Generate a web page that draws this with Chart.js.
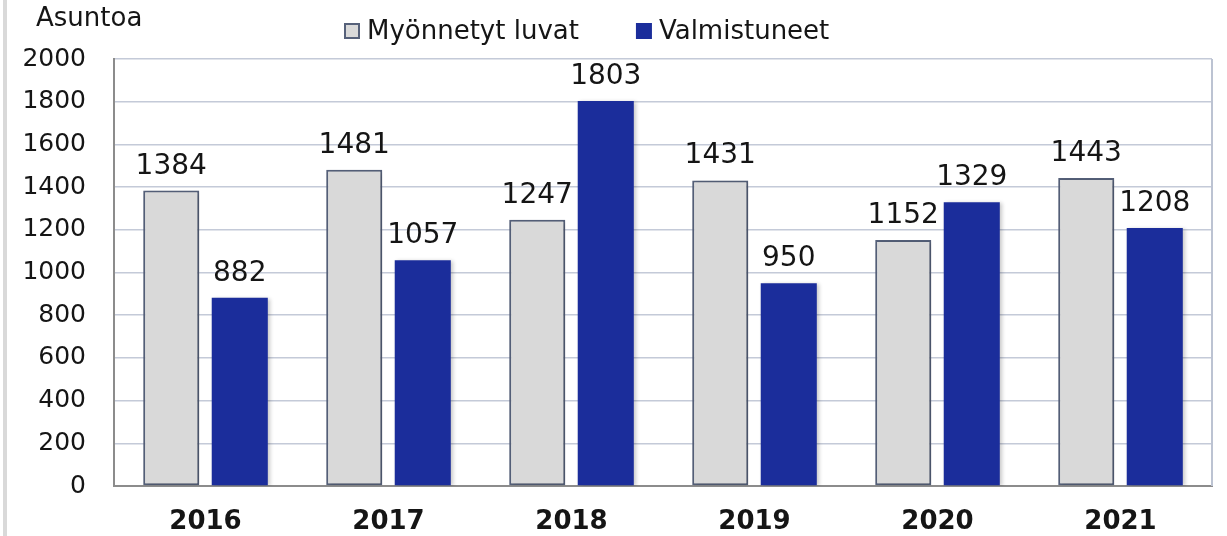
<!DOCTYPE html>
<html>
<head>
<meta charset="utf-8">
<script src="https://cdn.jsdelivr.net/npm/chart.js@4.4.1/dist/chart.umd.min.js"></script>
<style>
    html, body { margin: 0; padding: 0; background: #ffffff; }
    #wrap { position: relative; width: 1227px; height: 536px; }
</style>
</head>
<body>
<div id="wrap"><canvas id="chart" width="1227" height="536"></canvas></div>
<script>
// Data
const vuodet = ['2016', '2017', '2018', '2019', '2020', '2021'];
const myonnetytLuvat = [1384, 1481, 1247, 1431, 1152, 1443];
const valmistuneet = [882, 1057, 1803, 950, 1329, 1208];
const sarjaNimet = ['Myönnetyt luvat', 'Valmistuneet'];
const yksikko = 'Asuntoa';
const yMin = 0, yMax = 2000, yStep = 200;

const fontti = "'DejaVu Sans', Verdana, sans-serif";
const tekstiVari = '#151515';

// Background, left grey strip, plot right border
const taustaPlugin = {
    id: 'tausta',
    beforeDraw(chart) {
        const ctx = chart.ctx;
        ctx.save();
        ctx.fillStyle = '#ffffff';
        ctx.fillRect(0, 0, chart.width, chart.height);
        ctx.fillStyle = '#d9d9d9';
        ctx.fillRect(3, 0, 4, chart.height);
        ctx.restore();
    },
    afterDraw(chart) {
        const { ctx, chartArea } = chart;
        ctx.save();
        ctx.strokeStyle = '#bcc3d2';
        ctx.lineWidth = 2;
        ctx.beginPath();
        ctx.moveTo(chartArea.right, chartArea.top);
        ctx.lineTo(chartArea.right, chartArea.bottom);
        ctx.stroke();
        ctx.restore();
    }
};

// Soft shadow under bars
const varjoPlugin = {
    id: 'varjo',
    beforeDatasetsDraw(chart) {
        const ctx = chart.ctx;
        ctx.save();
        ctx.shadowColor = 'rgba(0,0,0,0.22)';
        ctx.shadowBlur = 4;
        ctx.shadowOffsetX = 2;
        ctx.shadowOffsetY = 1;
    },
    afterDatasetsDraw(chart) {
        chart.ctx.restore();
    }
};

// Value labels above bars, unit text and legend
const tekstiPlugin = {
    id: 'tekstit',
    afterDraw(chart) {
        const ctx = chart.ctx;
        ctx.save();
        ctx.fillStyle = tekstiVari;
        ctx.textAlign = 'center';
        ctx.textBaseline = 'alphabetic';
        ctx.font = '28px ' + fontti;
        chart.data.datasets.forEach((ds, i) => {
            const meta = chart.getDatasetMeta(i);
            meta.data.forEach((bar, j) => {
                ctx.fillText(String(ds.data[j]), bar.x, bar.y - 17);
            });
        });

        // unit above the y axis
        ctx.textAlign = 'left';
        ctx.font = '26px ' + fontti;
        ctx.fillText(yksikko, 36, 26);

        // legend
        let x = 344;
        chart.data.datasets.forEach((ds, i) => {
            ctx.fillStyle = ds.backgroundColor;
            ctx.fillRect(x, 23, 16, 16);
            if (ds.borderWidth) {
                ctx.strokeStyle = ds.borderColor;
                ctx.lineWidth = 2;
                ctx.strokeRect(x + 1, 24, 14, 14);
            }
            ctx.fillStyle = tekstiVari;
            ctx.fillText(ds.label, x + 23, 39);
            x += 23 + ctx.measureText(ds.label).width + 57;
        });
        ctx.restore();
    }
};

Chart.defaults.font.family = fontti;

new Chart(document.getElementById('chart'), {
    type: 'bar',
    data: {
        labels: vuodet,
        datasets: [
            {
                label: sarjaNimet[0],
                data: myonnetytLuvat,
                backgroundColor: '#d9d9d9',
                borderColor: '#56617a',
                borderWidth: 2,
                borderSkipped: false,
                categoryPercentage: 0.749,
                barPercentage: 0.818
            },
            {
                label: sarjaNimet[1],
                data: valmistuneet,
                backgroundColor: '#1b2d9b',
                borderColor: '#2a3ca8',
                borderWidth: 0,
                categoryPercentage: 0.749,
                barPercentage: 0.818
            }
        ]
    },
    options: {
        responsive: false,
        animation: false,
        layout: {
            padding: { left: 0, right: 15, top: 59, bottom: 0 }
        },
        plugins: {
            legend: { display: false },
            title: { display: false },
            tooltip: { enabled: false }
        },
        scales: {
            x: {
                grid: { display: false, drawTicks: false },
                border: { display: true, color: '#8c8c8c', width: 2 },
                ticks: {
                    color: tekstiVari,
                    font: { size: 26, weight: 'bold' },
                    padding: 21,
                    maxRotation: 0
                },
                afterFit(scale) { scale.height = 50; }
            },
            y: {
                min: yMin,
                max: yMax,
                grid: { color: '#c4cad8', lineWidth: 1.5, drawTicks: false },
                border: { display: true, color: '#8c8c8c', width: 2 },
                ticks: {
                    stepSize: yStep,
                    color: tekstiVari,
                    font: { size: 25 },
                    padding: 28,
                    callback: (v) => String(v)
                },
                afterFit(scale) { scale.width = 114; }
            }
        }
    },
    plugins: [taustaPlugin, varjoPlugin, tekstiPlugin]
});
</script>
</body>
</html>
